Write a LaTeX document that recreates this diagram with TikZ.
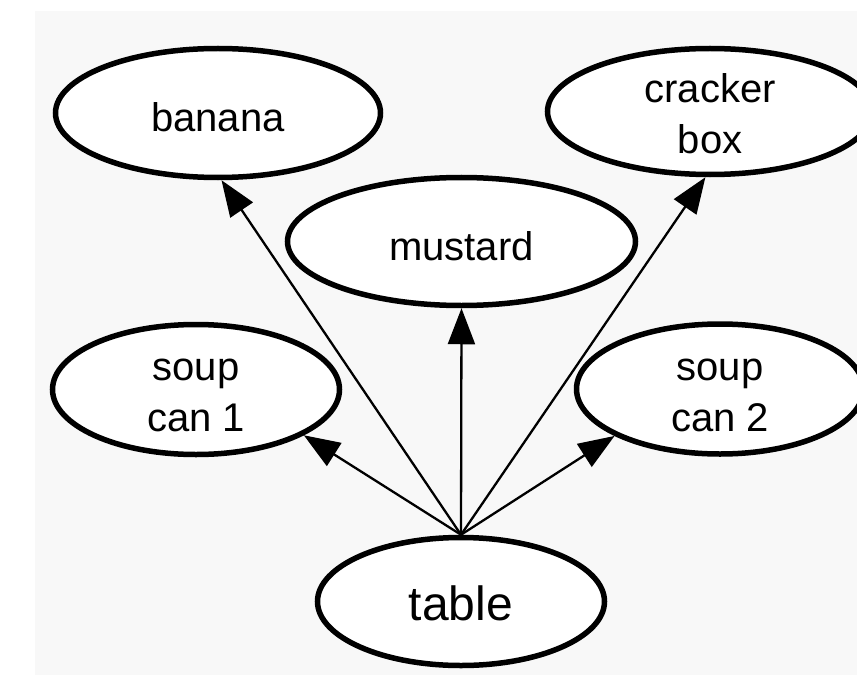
\documentclass[tikz,border=0pt]{standalone}
\usepackage{fontspec}
\setmainfont{Liberation Sans}
\usetikzlibrary{shapes.geometric,arrows.meta}
\definecolor{panelgray}{RGB}{248,248,248}
\tikzset{
  obj/.style={ellipse, draw=black, line width=5.5bp, fill=white, inner sep=0pt,
    align=center, font=\fontsize{40bp}{51bp}\selectfont,
    text height=38bp, text depth=0bp},
  twoline/.style={text height=84bp, text depth=0bp},
  rel/.style={line width=2.3bp, -{Triangle[length=36bp,width=27bp]}}
}
\begin{document}
\begin{tikzpicture}[x=1bp,y=-1bp]
  % canvas and backdrop panel
  \useasboundingbox (0,0) rectangle (857,675);
  \fill[white] (0,0) rectangle (857,675);
  \fill[panelgray] (35,11) rectangle (857,675);

  % objects
  \node[obj, minimum width=325bp, minimum height=129bp] (banana)  at (218,113)   {banana};
  \node[obj, twoline, minimum width=325bp, minimum height=126bp] (cracker) at (710,111.5) {cracker\\box};
  \node[obj, minimum width=348bp, minimum height=128bp] (mustard) at (461.5,241.5) {mustard};
  \node[obj, twoline, minimum width=287bp, minimum height=130bp] (soup1)   at (196,389.5) {soup\\can 1};
  \node[obj, twoline, minimum width=287bp, minimum height=130bp] (soup2)   at (720,389)   {soup\\can 2};
  \node[obj, minimum width=287bp, minimum height=128bp,
        font=\fontsize{48bp}{58bp}\selectfont, text height=37bp] (table) at (461,601.5) {table};

  % support relations
  \draw[rel] (table.north) -- (soup1.-23);
  \draw[rel] (table.north) -- (banana.-87);
  \draw[rel] (table.north) -- (mustard.south);
  \draw[rel] (table.north) -- (cracker.-94);
  \draw[rel] (table.north) -- (soup2.-156);
\end{tikzpicture}
\end{document}
